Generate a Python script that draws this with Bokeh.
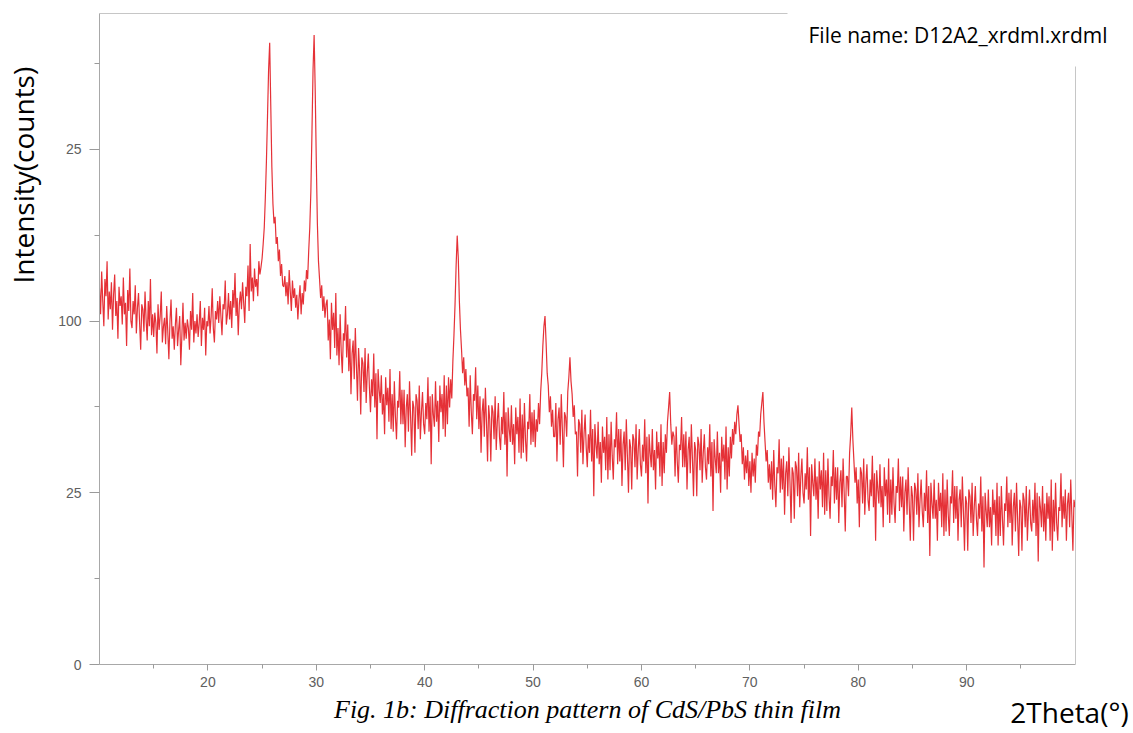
import math
from bokeh.plotting import figure
from bokeh.models import Range1d, FixedTicker, LinearAxis
from bokeh.embed import file_html
from bokeh.resources import INLINE

# ---------------- data (read from the scanned pattern) ----------------
# 2Theta scan: 10.0 deg to 100.0 deg in 0.1 deg steps; intensities in counts
scan_start = 10.0
scan_step = 0.1

counts_10s = [
    120, 104, 131, 112, 97, 126, 115, 138, 101, 118,
    107, 124, 95, 116, 129, 103, 112, 90, 121, 109,
    115, 98, 127, 104, 111, 86, 119, 106, 133, 100,
    96, 112, 104, 122, 93, 108, 117, 99, 84, 110,
    107, 94, 118, 101, 89, 112, 97, 126, 92, 104,
    91, 105, 99, 82, 110, 95, 103, 118, 88, 97,
    102, 87, 109, 94, 79, 100, 113, 90, 97, 84,
    98, 108, 86, 95, 103, 76, 92, 111, 89, 99,
    90, 101, 96, 84, 106, 95, 117, 88, 100, 93,
    104, 91, 99, 112, 86, 102, 95, 108, 81, 100,
]
counts_20s = [
    97, 109, 93, 103, 120, 96, 88, 106, 101, 112,
    99, 115, 103, 92, 110, 107, 125, 98, 104, 117,
    101, 112, 96, 119, 108, 130, 103, 114, 92, 110,
    118, 107, 124, 111, 99, 121, 115, 135, 106, 150,
    118, 127, 112, 133, 121, 126, 115, 138, 129, 134,
    140, 150, 162, 185, 215, 255, 300, 328, 265, 210,
    180, 165, 170, 150, 155, 138, 146, 128, 136, 122,
    121, 128, 115, 124, 110, 132, 118, 106, 125, 114,
    120, 108, 116, 101, 113, 122, 104, 117, 110, 125,
    118, 132, 126, 145, 162, 190, 240, 300, 336, 280,
]
counts_30s = [
    215, 165, 138, 126, 114, 122, 106, 115, 102, 110,
    113, 89, 101, 79, 111, 95, 105, 85, 117, 81,
    96, 76, 104, 83, 72, 93, 89, 109, 80, 98,
    73, 90, 62, 82, 89, 69, 96, 76, 59, 85,
    73, 53, 80, 77, 63, 85, 58, 72, 82, 65,
    54, 69, 61, 82, 56, 72, 43, 74, 64, 58,
    71, 53, 62, 45, 70, 57, 65, 50, 74, 47,
    62, 46, 68, 52, 43, 59, 56, 73, 49, 64,
    49, 64, 40, 56, 62, 46, 68, 52, 37, 59,
    56, 38, 62, 59, 47, 66, 43, 54, 63, 49,
]
counts_40s = [
    45, 58, 51, 70, 46, 61, 34, 62, 53, 48,
    68, 50, 59, 42, 66, 54, 62, 47, 71, 44,
    66, 49, 70, 56, 69, 60, 78, 92, 110, 135,
    156, 140, 112, 95, 84, 72, 80, 66, 74, 61,
    65, 48, 71, 54, 45, 62, 59, 75, 51, 66,
    47, 61, 38, 54, 60, 44, 65, 50, 35, 57,
    51, 35, 57, 54, 43, 61, 39, 50, 58, 44,
    39, 52, 45, 63, 41, 54, 30, 56, 47, 42,
    57, 41, 49, 34, 56, 45, 52, 38, 60, 36,
    53, 38, 58, 43, 35, 50, 47, 62, 41, 54,
]
counts_50s = [
    42, 55, 40, 51, 46, 58, 49, 63, 72, 86,
    97, 103, 88, 72, 66, 54, 61, 48, 55, 44,
    44, 58, 35, 51, 56, 41, 62, 47, 33, 54,
    52, 44, 63, 70, 80, 68, 62, 52, 57, 45,
    46, 30, 51, 49, 38, 55, 34, 45, 53, 40,
    33, 45, 38, 55, 35, 47, 24, 49, 41, 36,
    50, 34, 42, 28, 48, 38, 44, 32, 52, 29,
    45, 32, 50, 37, 29, 43, 40, 54, 34, 47,
    35, 47, 27, 41, 46, 32, 51, 37, 25, 43,
    40, 26, 45, 43, 33, 49, 29, 39, 47, 34,
]
counts_60s = [
    30, 41, 35, 51, 31, 44, 22, 45, 38, 33,
    47, 32, 39, 26, 46, 36, 42, 30, 49, 27,
    42, 31, 45, 38, 50, 56, 63, 49, 41, 46,
    44, 30, 48, 35, 28, 41, 39, 52, 33, 45,
    33, 46, 26, 39, 44, 31, 49, 36, 24, 42,
    39, 24, 44, 41, 32, 47, 28, 38, 45, 33,
    29, 40, 34, 49, 30, 42, 20, 43, 36, 31,
    46, 31, 38, 25, 44, 35, 41, 29, 48, 26,
    40, 30, 44, 36, 47, 41, 50, 45, 53, 57,
    49, 42, 45, 34, 40, 29, 37, 31, 39, 27,
]
counts_70s = [
    35, 25, 38, 30, 36, 28, 41, 37, 46, 44,
    53, 58, 63, 50, 42, 35, 39, 28, 34, 26,
    35, 23, 39, 27, 21, 33, 31, 43, 25, 36,
    26, 37, 19, 31, 35, 24, 40, 28, 17, 33,
    31, 18, 35, 33, 24, 38, 21, 30, 36, 25,
    22, 31, 26, 40, 23, 33, 14, 34, 28, 24,
    36, 23, 30, 18, 35, 26, 32, 21, 38, 19,
    32, 20, 36, 24, 18, 30, 27, 39, 22, 33,
    23, 33, 17, 28, 32, 21, 36, 25, 15, 30,
    30, 24, 38, 45, 56, 43, 35, 28, 33, 22,
]
counts_80s = [
    29, 16, 33, 31, 22, 36, 19, 28, 34, 23,
    20, 29, 24, 37, 21, 31, 13, 32, 26, 22,
    34, 21, 27, 16, 33, 24, 29, 19, 36, 17,
    29, 19, 33, 22, 17, 27, 25, 36, 20, 30,
    21, 30, 15, 25, 29, 19, 33, 22, 13, 27,
    24, 13, 28, 26, 19, 31, 16, 23, 29, 20,
    16, 25, 20, 32, 17, 27, 10, 28, 22, 18,
    29, 18, 23, 13, 28, 20, 25, 16, 31, 14,
    26, 15, 29, 19, 14, 24, 22, 32, 17, 27,
    18, 27, 13, 23, 26, 16, 30, 20, 11, 24,
]
counts_90s = [
    22, 11, 26, 24, 17, 28, 14, 21, 27, 18,
    14, 22, 18, 30, 15, 24, 8, 25, 20, 16,
    26, 16, 21, 12, 26, 19, 23, 14, 28, 12,
    24, 14, 27, 18, 12, 22, 20, 30, 16, 25,
    17, 26, 12, 21, 25, 15, 28, 18, 10, 23,
    21, 11, 25, 23, 16, 27, 13, 20, 26, 17,
    15, 23, 17, 28, 14, 25, 9, 24, 21, 16,
    27, 15, 22, 13, 25, 18, 24, 13, 29, 11,
    23, 15, 28, 17, 13, 21, 20, 31, 16, 24,
    18, 26, 13, 22, 25, 16, 29, 19, 11, 23,
]
counts_end = [21]

x_major_ticks = [20, 30, 40, 50, 60, 70, 80, 90]
x_minor_ticks = [15, 25, 35, 45, 55, 65, 75, 85, 95]
y_tick_counts = [0, 25, 100, 225]
y_tick_text = ["0", "25", "100", "25"]
y_minor_counts = [6.25, 56.25, 156.25, 306.25]

title_y = "Intensity(counts)"
title_x = "2Theta(\u00b0)"
file_note = "File name: D12A2_xrdml.xrdml"
caption = "Fig. 1b: Diffraction pattern of CdS/PbS thin film"

# ---------------- build ----------------
intensity = (counts_10s + counts_20s + counts_30s + counts_40s + counts_50s
             + counts_60s + counts_70s + counts_80s + counts_90s + counts_end)
two_theta = [round(scan_start + i * scan_step, 1) for i in range(len(intensity))]
# square-root intensity scale, as in the original pattern
sqrt_int = [math.sqrt(v) for v in intensity]

W, H = 1133, 733
L, R, T, B = 99, 1075, 13, 664
X0, X1 = 10.0, 100.04
Y0, Y1 = 0.0, 18.96

p = figure(width=W, height=H, output_backend="svg", toolbar_location=None,
           x_range=Range1d(X0, X1), y_range=Range1d(Y0, Y1),
           min_border_left=L, min_border_right=W - R,
           min_border_top=T, min_border_bottom=H - B)
p.xgrid.visible = False
p.ygrid.visible = False
p.background_fill_color = "white"
p.border_fill_color = "white"
p.outline_line_color = None

# pixel-position ranges used only to place the decorative texts / frame lines
p.extra_x_ranges = {"px": Range1d(L, R)}
p.extra_y_ranges = {"py": Range1d(H - B, H - T)}

p.line(two_theta, sqrt_int, line_color="#e4262c", line_width=1.2, line_alpha=0.95)

y_major = [int(round(math.sqrt(v))) for v in y_tick_counts]
y_minor = [math.sqrt(v) for v in y_minor_counts]

for ax in (p.xaxis[0], p.yaxis[0]):
    ax.axis_line_color = "#a8a8a8"
    ax.major_tick_line_color = "#9a9a9a"
    ax.minor_tick_line_color = "#9a9a9a"
    ax.major_tick_in = 0
    ax.minor_tick_in = 0
    ax.major_label_text_font = "Liberation Sans"
    ax.major_label_text_font_size = "14px"
    ax.major_label_text_color = "#606060"

xa = p.xaxis[0]
xa.ticker = FixedTicker(ticks=x_major_ticks, minor_ticks=x_minor_ticks)
xa.major_tick_out = 6
xa.minor_tick_out = 4
xa.major_label_standoff = 6
xa.axis_label = caption
xa.axis_label_text_font = "Liberation Serif"
xa.axis_label_text_font_style = "italic"
xa.axis_label_text_font_size = "26px"
xa.axis_label_text_color = "black"
xa.axis_label_standoff = 5

ya = p.yaxis[0]
ya.ticker = FixedTicker(ticks=y_major, minor_ticks=y_minor)
ya.major_label_overrides = {t: s for t, s in zip(y_major, y_tick_text)}
ya.major_tick_out = 10
ya.minor_tick_out = 5
ya.major_label_standoff = 8


def bare_axis(**kw):
    ax = LinearAxis(**kw)
    ax.major_tick_line_color = None
    ax.minor_tick_line_color = None
    ax.major_tick_out = 0
    ax.major_tick_in = 0
    ax.minor_tick_out = 0
    ax.minor_tick_in = 0
    return ax


# top frame edge (stops where the file-name box begins)
top_edge = bare_axis(x_range_name="px", ticker=FixedTicker(ticks=[]), bounds=(L, 787))
top_edge.axis_line_color = "#c6c6c6"
top_edge.major_label_standoff = 0
p.add_layout(top_edge, "above")

# right frame edge (starts below the file-name box)
right_edge = bare_axis(y_range_name="py", ticker=FixedTicker(ticks=[]), bounds=(H - B, H - 66))
right_edge.axis_line_color = "#c6c6c6"
right_edge.major_label_standoff = 0
p.add_layout(right_edge, "right")

# file-name note, top right
fn_pos = H - 34
fn_ax = bare_axis(y_range_name="py", ticker=FixedTicker(ticks=[fn_pos]))
fn_ax.axis_line_color = None
fn_ax.major_label_overrides = {fn_pos: file_note}
fn_ax.major_label_standoff = 808 - R
fn_ax.major_label_text_font = "Open Sans"
fn_ax.major_label_text_font_size = "21px"
fn_ax.major_label_text_color = "black"
p.add_layout(fn_ax, "right")

# y title, upper left (text starts at y=283 px and reads upwards)
yt_pos = H - 283
yt_ax = bare_axis(y_range_name="py", ticker=FixedTicker(ticks=[yt_pos]))
yt_ax.axis_line_color = None
yt_ax.major_label_overrides = {yt_pos: title_y}
yt_ax.major_label_orientation = math.pi / 2
yt_ax.major_label_standoff = -1088
yt_ax.major_label_text_font = "Open Sans"
yt_ax.major_label_text_font_size = "28px"
yt_ax.major_label_text_color = "black"
p.add_layout(yt_ax, "right")

# x title, bottom right
xt_pos = 1069
xt_ax = bare_axis(x_range_name="px", ticker=FixedTicker(ticks=[xt_pos]))
xt_ax.axis_line_color = None
xt_ax.major_label_overrides = {xt_pos: title_x}
xt_ax.major_label_standoff = -34
xt_ax.major_label_text_font = "Open Sans"
xt_ax.major_label_text_font_size = "28px"
xt_ax.major_label_text_color = "black"
p.add_layout(xt_ax, "below")

open("out.html", "w").write(file_html(p, INLINE))
